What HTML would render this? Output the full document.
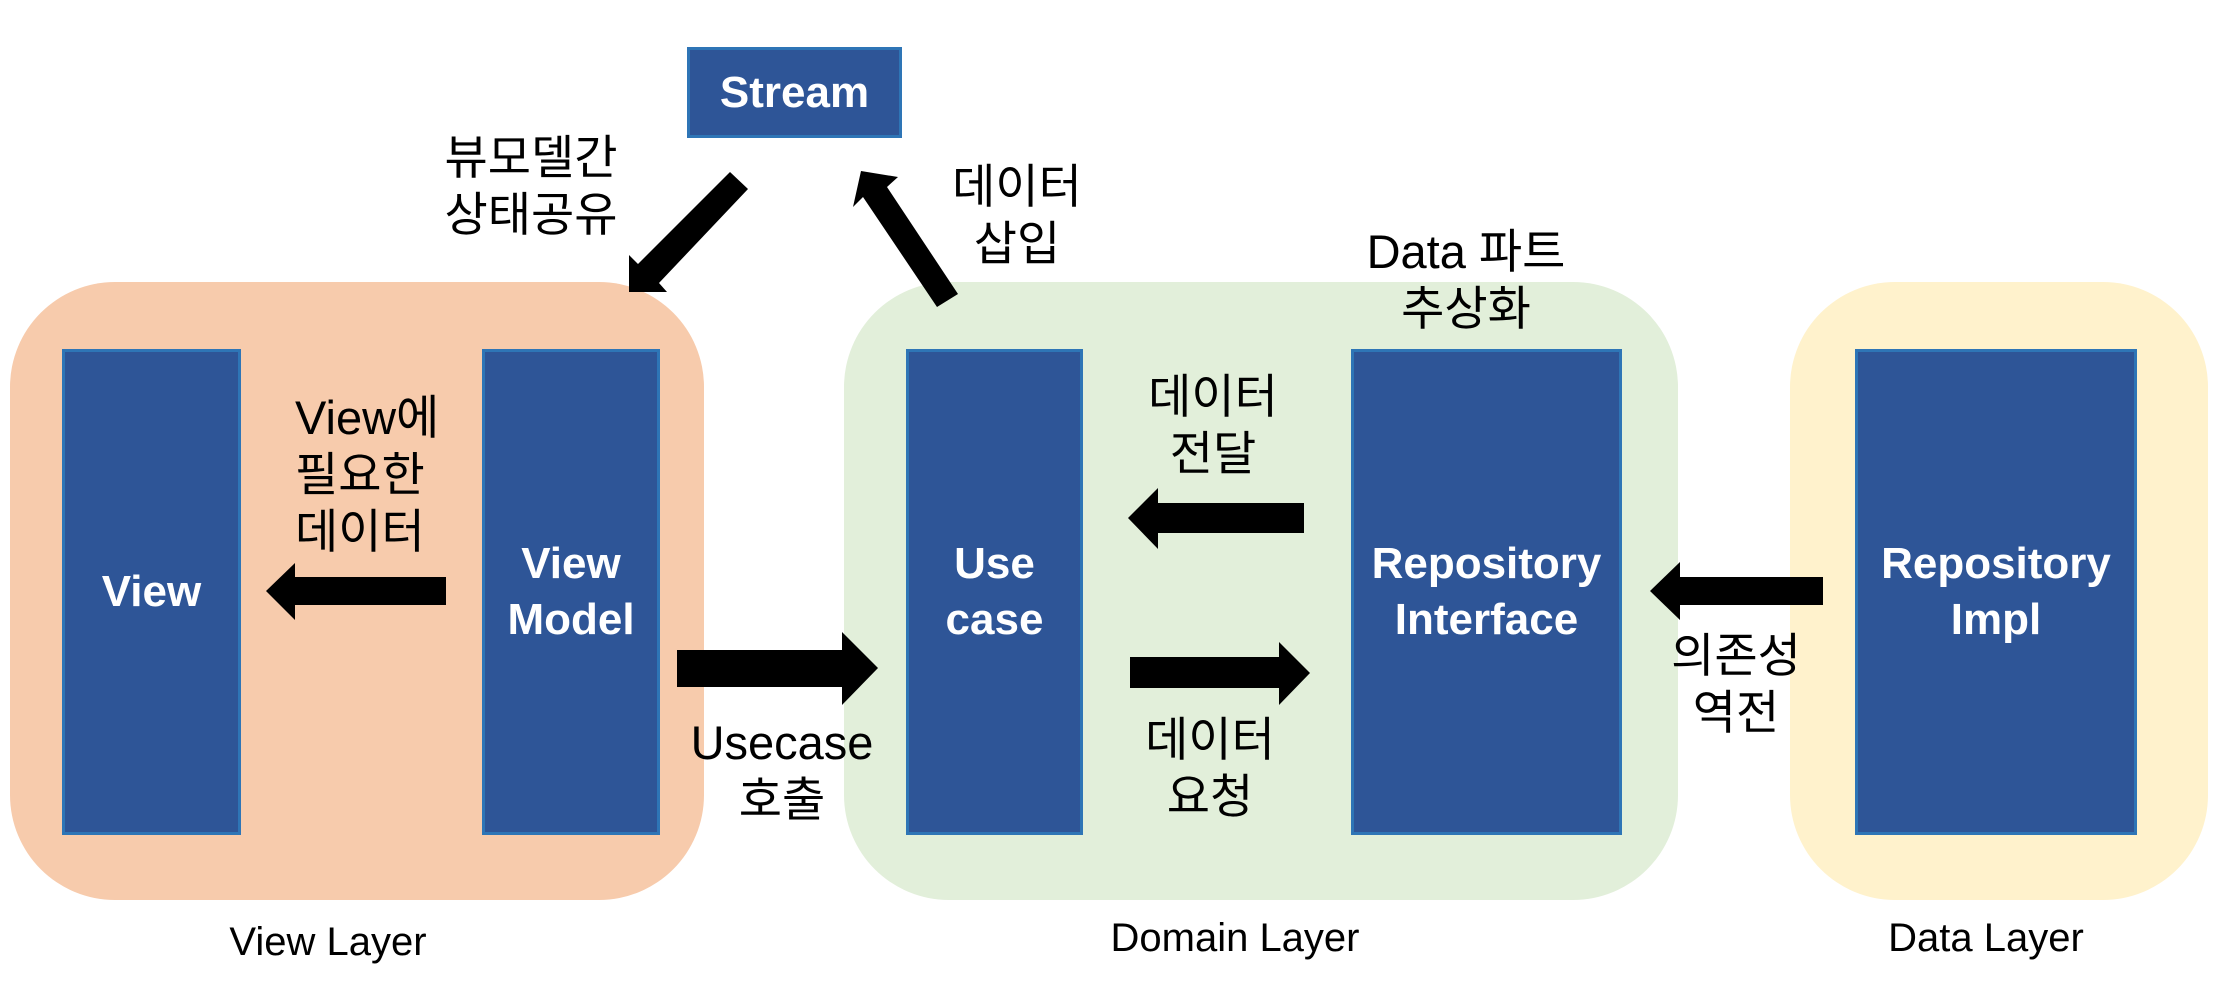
<!DOCTYPE html>
<html><head><meta charset="utf-8"><style>
html,body{margin:0;padding:0;background:#fff;}
body{width:2228px;height:994px;position:relative;overflow:hidden;font-family:"Liberation Sans","Noto Sans CJK KR",sans-serif;}
.abs{position:absolute;box-sizing:border-box;}
.layer{border-radius:105px;}
.bar{background:#2E5597;border:3px solid #2E75B6;color:#fff;font-weight:bold;font-size:44px;line-height:56px;display:flex;align-items:center;justify-content:center;text-align:center;}
.lbl{position:absolute;font-size:47px;line-height:57px;color:#000;text-align:center;white-space:nowrap;transform:translateX(-50%);}
.ll{position:absolute;font-size:40px;color:#000;white-space:nowrap;transform:translateX(-50%);}
</style></head><body>
<div class="abs layer" style="left:10px;top:282px;width:694px;height:618px;background:#F7CBAC"></div>
<div class="abs layer" style="left:844px;top:282px;width:834px;height:618px;background:#E2EFDA"></div>
<div class="abs layer" style="left:1790px;top:282px;width:418px;height:618px;background:#FFF2CC"></div>

<div class="abs bar" style="left:687px;top:47px;width:215px;height:91px;">Stream</div>
<div class="abs bar" style="left:62px;top:349px;width:179px;height:486px;">View</div>
<div class="abs bar" style="left:482px;top:349px;width:178px;height:486px;">View<br>Model</div>
<div class="abs bar" style="left:906px;top:349px;width:177px;height:486px;">Use<br>case</div>
<div class="abs bar" style="left:1351px;top:349px;width:271px;height:486px;">Repository<br>Interface</div>
<div class="abs bar" style="left:1855px;top:349px;width:282px;height:486px;">Repository<br>Impl</div>

<svg class="abs" style="left:0;top:0" width="2228" height="994">
<polygon fill="#000" points="730,172 748,189 659,283 667,292 629,292 629,255 638,264"/>
<polygon fill="#000" points="861,171 898,177 887,187 958,294 937,307 863,197 853,207"/>
<polygon fill="#000" points="446,577 446,605 295,605 295,620 266,591 295,563 295,577"/>
<polygon fill="#000" points="677,650 842,650 842,632 878,668 842,705 842,687 677,687"/>
<polygon fill="#000" points="1304,503 1304,533 1158,533 1158,549 1128,518 1158,488 1158,503"/>
<polygon fill="#000" points="1130,657 1279,657 1279,642 1310,673 1279,705 1279,688 1130,688"/>
<polygon fill="#000" points="1823,577 1823,605 1680,605 1680,620 1650,591 1680,562 1680,577"/>
</svg>

<div class="lbl" style="left:531px;top:129px;">뷰모델간<br>상태공유</div>
<div class="lbl" style="left:1017px;top:158px;">데이터<br>삽입</div>
<div class="lbl" style="left:295px;top:389px;transform:none;text-align:left;">View에<br>필요한<br>데이터</div>
<div class="lbl" style="left:782px;top:714px;">Usecase<br>호출</div>
<div class="lbl" style="left:1466px;top:223px;">Data 파트<br>추상화</div>
<div class="lbl" style="left:1213px;top:368px;">데이터<br>전달</div>
<div class="lbl" style="left:1210px;top:711px;">데이터<br>요청</div>
<div class="lbl" style="left:1736px;top:627px;">의존성<br>역전</div>
<div class="ll" style="left:328px;top:920px;">View Layer</div>
<div class="ll" style="left:1235px;top:916px;">Domain Layer</div>
<div class="ll" style="left:1986px;top:916px;">Data Layer</div>
</body></html>
